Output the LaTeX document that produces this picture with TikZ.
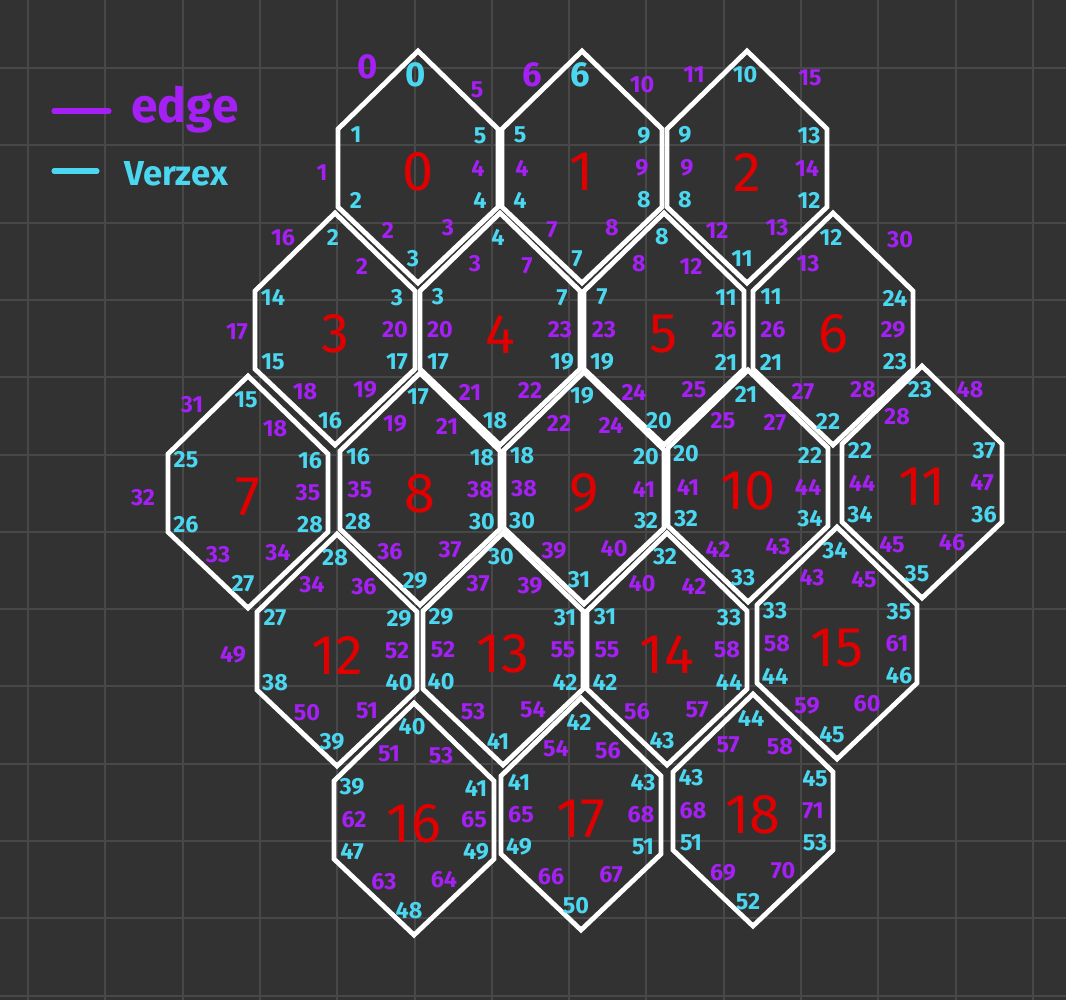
\documentclass[tikz,border=0pt]{standalone}
\usepackage{fontspec}
\setmainfont{Fira Sans}
\definecolor{bgc}{RGB}{50,50,50}
\definecolor{gridc}{RGB}{72,72,72}
\definecolor{epurple}{RGB}{165,32,245}
\definecolor{vcyan}{RGB}{75,215,240}
\definecolor{hred}{RGB}{225,0,0}
\newcommand\lgnum{\fontsize{26}{26}\selectfont}
\tikzset{
  hexline/.style={draw=white, line width=3.6pt, line join=miter},
  vlab/.style={text=vcyan, font=\fontsize{17.5}{17.5}\selectfont\bfseries, inner sep=0pt},
  elab/.style={text=epurple, font=\fontsize{17.5}{17.5}\selectfont\bfseries, inner sep=0pt},
  bigelab/.style={text=epurple, font=\fontsize{26}{26}\selectfont\bfseries, inner sep=0pt},
  hexnum/.style={text=hred, font=\fontsize{42}{42}\selectfont, inner sep=0pt},
  gridline/.style={draw=gridc, line width=1.5pt},
  legline/.style={line width=3.8pt, line cap=round},
}
\newcommand\hexcell[4]{%
  \coordinate (#1) at (#2,#3);
  \begin{scope}[shift={(#1)}]
    \draw[hexline] (0,-117) -- (80,-39) -- (80,39) -- (0,115) -- (-80,39) -- (-80,-39) -- cycle;
    \node[hexnum] (#1n) at (0,4) {#4};
  \end{scope}}
\newcommand\hexverts[7]{%
  \begin{scope}[shift={(#1)}]
    \node[vlab] (#1v1) at (-2,-93) {#2};
    \node[vlab] (#1v2) at (-62,-33) {#3};
    \node[vlab] (#1v3) at (-62,32) {#4};
    \node[vlab] (#1v4) at (-5,91) {#5};
    \node[vlab] (#1v5) at (62,32) {#6};
    \node[vlab] (#1v6) at (62,-32) {#7};
  \end{scope}}
\newcommand\edgeopt[4]{\if\relax\detokenize{#4}\relax\else\node[elab] (#1) at (#2,#3) {#4};\fi}
\newcommand\hexedges[7]{%
  \begin{scope}[shift={(#1)}]
    \edgeopt{#1e1}{-25}{-66}{#2}
    \edgeopt{#1e2}{-60}{0}{#3}
    \edgeopt{#1e3}{-30}{62}{#4}
    \edgeopt{#1e4}{30}{60}{#5}
    \edgeopt{#1e5}{60}{0}{#6}
    \edgeopt{#1e6}{27}{-64}{#7}
  \end{scope}}
\begin{document}
\begin{tikzpicture}[x=0.75pt,y=-0.75pt]
\useasboundingbox (0,0) rectangle (1066,1000);
\fill[bgc] (0,0) rectangle (1066,1000);
\foreach \i in {0,...,13} \draw[gridline] ({28+77.3*\i},0) -- ({28+77.3*\i},1000);
\foreach \j in {0,...,12} \draw[gridline] (0,{68+77.3*\j}) -- (1066,{68+77.3*\j});
% legend
\coordinate (lp1) at (54,111); \coordinate (lp2) at (109,111);
\coordinate (lc1) at (54,171); \coordinate (lc2) at (97,171);
\draw[legline, epurple] (lp1) -- (lp2);
\draw[legline, vcyan] (lc1) -- (lc2);
\node[text=epurple, font=\fontsize{36}{36}\selectfont\bfseries, anchor=base west, inner sep=0pt] (legedge) at (131,122) {edge};
\node[text=vcyan, font=\fontsize{26}{26}\selectfont\bfseries, anchor=base west, inner sep=0pt] (legvert) at (124,185) {Verzex};
% hexes
\hexcell{h0}{418}{168}{0}
\hexcell{h1}{582}{168}{1}
\hexcell{h2}{747}{168}{2}
\hexcell{h3}{335}{330}{3}
\hexcell{h4}{500}{330}{4}
\hexcell{h5}{664}{330}{5}
\hexcell{h6}{833}{330}{6}
\hexcell{h7}{248}{493}{7}
\hexcell{h8}{420}{490}{8}
\hexcell{h9}{584}{489}{9}
\hexcell{h10}{748}{487}{10}
\hexcell{h11}{922}{483}{11}
\hexcell{h12}{337}{651}{12}
\hexcell{h13}{503}{650}{13}
\hexcell{h14}{667}{650}{14}
\hexcell{h15}{837}{644}{15}
\hexcell{h16}{414}{820}{16}
\hexcell{h17}{581}{815}{17}
\hexcell{h18}{753}{811}{18}
% vertex and edge labels
\hexverts{h0}{\lgnum 0}{1}{2}{3}{4}{5}
\hexedges{h0}{}{}{2}{3}{4}{}
\hexverts{h1}{\lgnum 6}{5}{4}{7}{8}{9}
\hexedges{h1}{}{4}{7}{8}{9}{}
\hexverts{h2}{10}{9}{8}{11}{12}{13}
\hexedges{h2}{}{9}{12}{13}{14}{}
\hexverts{h3}{2}{14}{15}{16}{17}{3}
\hexedges{h3}{}{}{18}{19}{20}{2}
\hexverts{h4}{4}{3}{17}{18}{19}{7}
\hexedges{h4}{3}{20}{21}{22}{23}{7}
\hexverts{h5}{8}{7}{19}{20}{21}{11}
\hexedges{h5}{8}{23}{24}{25}{26}{12}
\hexverts{h6}{12}{11}{21}{22}{23}{24}
\hexedges{h6}{13}{26}{27}{28}{29}{}
\hexverts{h7}{15}{25}{26}{27}{28}{16}
\hexedges{h7}{}{}{33}{34}{35}{18}
\hexverts{h8}{17}{16}{28}{29}{30}{18}
\hexedges{h8}{19}{35}{36}{37}{38}{21}
\hexverts{h9}{19}{18}{30}{31}{32}{20}
\hexedges{h9}{22}{38}{39}{40}{41}{24}
\hexverts{h10}{21}{20}{32}{33}{34}{22}
\hexedges{h10}{25}{41}{42}{43}{44}{27}
\hexverts{h11}{23}{22}{34}{35}{36}{37}
\hexedges{h11}{28}{44}{45}{46}{47}{}
\hexverts{h12}{28}{27}{38}{39}{40}{29}
\hexedges{h12}{34}{}{50}{51}{52}{36}
\hexverts{h13}{30}{29}{40}{41}{42}{31}
\hexedges{h13}{37}{52}{53}{54}{55}{39}
\hexverts{h14}{32}{31}{42}{43}{44}{33}
\hexedges{h14}{40}{55}{56}{57}{58}{42}
\hexverts{h15}{34}{33}{44}{45}{46}{35}
\hexedges{h15}{43}{58}{59}{60}{61}{45}
\hexverts{h16}{40}{39}{47}{48}{49}{41}
\hexedges{h16}{51}{62}{63}{64}{65}{53}
\hexverts{h17}{42}{41}{49}{50}{51}{43}
\hexedges{h17}{54}{65}{66}{67}{68}{56}
\hexverts{h18}{44}{43}{51}{52}{53}{45}
\hexedges{h18}{57}{68}{69}{70}{71}{58}
% outer edge labels
\node[bigelab] (o0) at (368,67) {0};
\node[elab] (o1) at (322,173) {1};
\node[elab] (o5) at (477,90) {5};
\node[bigelab] (o6) at (532,75) {6};
\node[elab] (o10) at (642,85) {10};
\node[elab] (o11) at (694,75) {11};
\node[elab] (o15) at (810,78) {15};
\node[elab] (o16) at (283,238) {16};
\node[elab] (o17) at (237,332) {17};
\node[elab] (o30) at (900,240) {30};
\node[elab] (o31) at (192,405) {31};
\node[elab] (o32) at (143,498) {32};
\node[elab] (o48) at (970,390) {48};
\node[elab] (o49) at (233,655) {49};
\end{tikzpicture}
\end{document}
